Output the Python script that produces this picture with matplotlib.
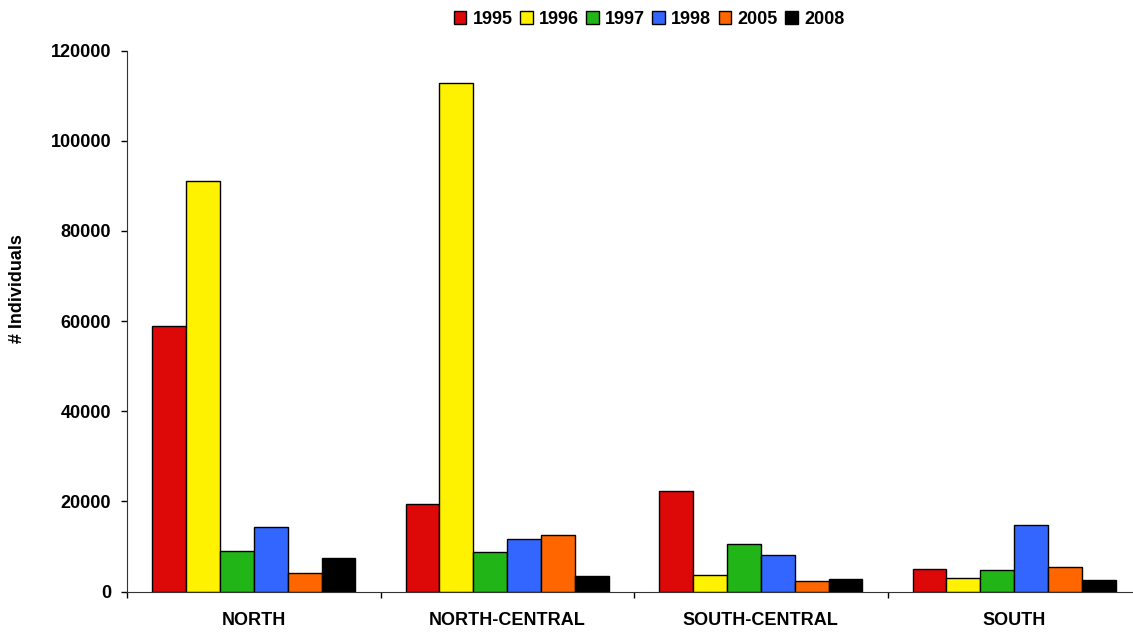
import numpy as np
import matplotlib
matplotlib.use("Agg")
import matplotlib.pyplot as plt

# regions and yearly counts
regions = ["NORTH", "NORTH-CENTRAL", "SOUTH-CENTRAL", "SOUTH"]
years = ["1995", "1996", "1997", "1998", "2005", "2008"]
counts_1995 = [59000, 19400, 22300, 4900]
counts_1996 = [91000, 112900, 3700, 3100]
counts_1997 = [9000, 8700, 10500, 4800]
counts_1998 = [14400, 11600, 8200, 14800]
counts_2005 = [4200, 12500, 2300, 5400]
counts_2008 = [7400, 3400, 2700, 2500]
colors = ["#DD0808", "#FFF200", "#22B518", "#3366FF", "#FF6600", "#000000"]

series = [counts_1995, counts_1996, counts_1997, counts_1998, counts_2005, counts_2008]

plt.rcParams["font.family"] = ["Liberation Sans", "DejaVu Sans"]
plt.rcParams["font.weight"] = "bold"
plt.rcParams["font.size"] = 13

fig = plt.figure(figsize=(11.33, 6.33), dpi=100)
ax = fig.add_axes([127 / 1133, 1 - 591.5 / 633, 1014 / 1133, (591.5 - 50.7) / 633])

x = np.arange(len(regions))
width = 0.1337
for i, (vals, yr, c) in enumerate(zip(series, years, colors)):
    offset = (i - 2.5) * width
    ax.bar(x + offset, vals, width, color=c, edgecolor="black", linewidth=1, label=yr, zorder=2)

ax.set_xlim(-0.5, 3.5)
ax.set_ylim(0, 120000)
ax.set_yticks(np.arange(0, 120001, 20000))
ax.set_yticklabels([str(v) for v in range(0, 120001, 20000)], fontweight="bold")
ax.tick_params(axis="y", length=4.3, width=1, pad=7, colors="black")

ax.set_xticks(x)
ax.set_xticklabels(regions, fontweight="bold")
ax.set_xticks(np.arange(-0.5, 4, 1), minor=True)
ax.tick_params(axis="x", which="major", length=0, pad=15)
ax.tick_params(axis="x", which="minor", length=4.3, width=1, direction="out")

for s in ["top", "right"]:
    ax.spines[s].set_visible(False)
ax.spines["left"].set_color("#333333")
ax.spines["bottom"].set_color("#333333")

fig.text(18 / 1133, 1 - 289 / 633, "# Individuals", rotation=90, ha="center", va="center",
         fontweight="bold")

fig.legend(loc="center", bbox_to_anchor=(649 / 1133, 1 - 19 / 633), ncol=6, frameon=False,
           handlelength=0.7, handleheight=0.7, handletextpad=0.35, columnspacing=0.4,
           prop={"weight": "bold", "size": 13})

fig.savefig("out.png", dpi=100)
